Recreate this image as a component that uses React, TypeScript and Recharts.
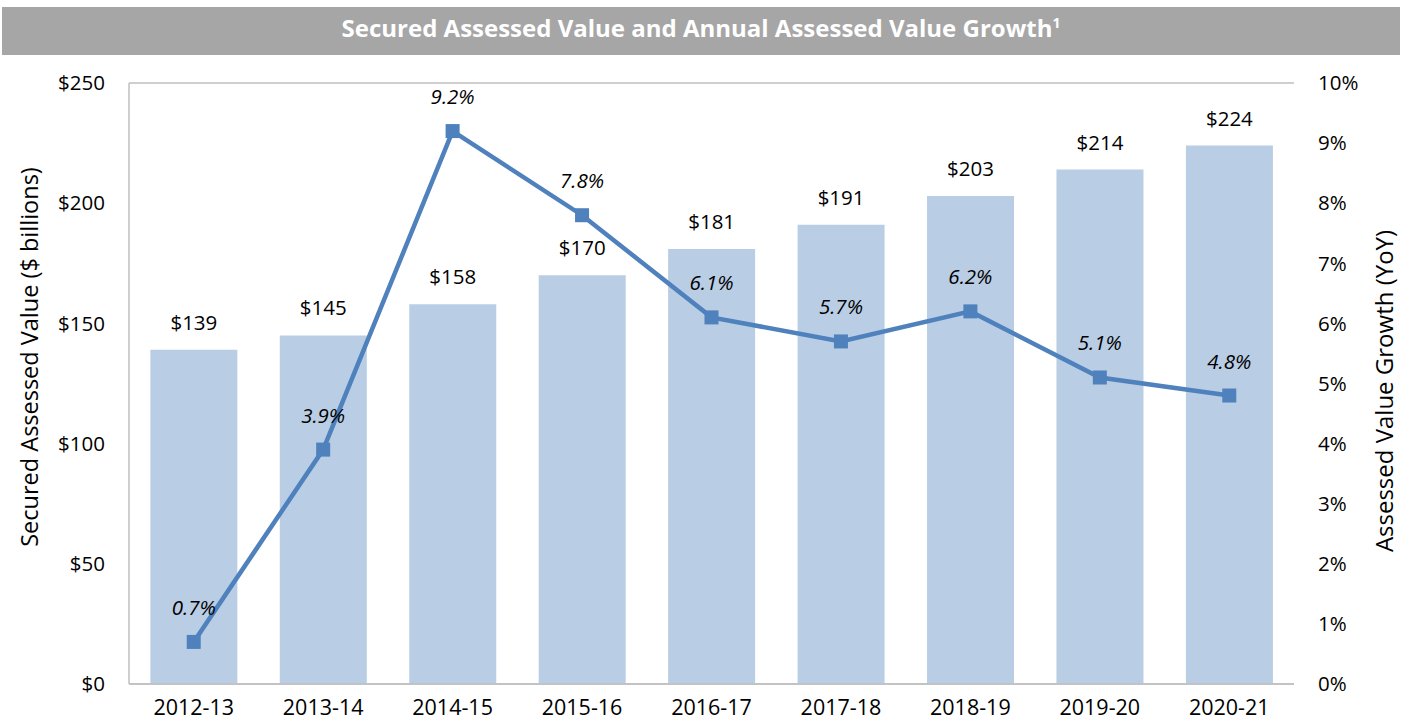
import {
    ComposedChart,
    Bar,
    Line,
    XAxis,
    YAxis,
    CartesianGrid,
    LabelList,
    Label,
} from "recharts";

const years = ["2012-13", "2013-14", "2014-15", "2015-16", "2016-17", "2017-18", "2018-19", "2019-20", "2020-21"];
const assessedValue = [139, 145, 158, 170, 181, 191, 203, 214, 224];
const growthPct = [0.7, 3.9, 9.2, 7.8, 6.1, 5.7, 6.2, 5.1, 4.8];
const valueTicks = [0, 50, 100, 150, 200, 250];
const pctTicks = [0, 1, 2, 3, 4, 5, 6, 7, 8, 9, 10];

const data = years.map((year, i) => ({
    year,
    value: assessedValue[i],
    growth: growthPct[i],
}));

const FONT = "'Open Sans', 'Noto Sans', sans-serif";
const GRID = "#BFBFBF";
const BAR = "#B9CDE5";
const LINE = "#4F81BD";

const SquareDot = (props: any) => {
    const { cx, cy, index } = props;
    if (cx == null || cy == null) return null;
    return <rect key={`dot-${index}`} x={cx - 7} y={cy - 7} width={14} height={14} fill={LINE} />;
};

const LeftTitle = () => (
    <text
        x={29}
        y={357}
        transform="rotate(-90 29 357)"
        textAnchor="middle"
        dominantBaseline="central"
        fontSize={23.5}
        fontFamily={FONT}
        fill="#000"
    >
        Secured Assessed Value ($ billions)
    </text>
);

const RightTitle = () => (
    <text
        x={1383}
        y={391}
        transform="rotate(-90 1383 391)"
        textAnchor="middle"
        dominantBaseline="central"
        fontSize={24}
        fontFamily={FONT}
        fill="#000"
    >
        Assessed Value Growth (YoY)
    </text>
);

export default function App() {
    return (
        <div style={{ position: "absolute", left: 0, top: 0, width: 1402, height: 723, background: "#fff", fontFamily: FONT }}>
            <div
                style={{
                    position: "absolute",
                    left: 2,
                    top: 7,
                    width: 1398,
                    height: 48,
                    background: "#A6A6A6",
                    color: "#fff",
                    fontWeight: 700,
                    fontSize: 24,
                    lineHeight: "42px",
                    textAlign: "center",
                }}
            >
                Secured Assessed Value and Annual Assessed Value Growth
                <sup style={{ fontSize: 14, verticalAlign: "top", lineHeight: "32px" }}>1</sup>
            </div>
            <ComposedChart
                width={1402}
                height={723}
                data={data}
                margin={{ top: 83, right: 0, bottom: 0, left: 0 }}
                barCategoryGap="16.5%"
            >
                <CartesianGrid vertical={false} stroke={GRID} strokeWidth={1.5} />
                <XAxis
                    dataKey="year"
                    height={39}
                    axisLine={{ stroke: GRID, strokeWidth: 1.5 }}
                    tickLine={false}
                    tickSize={0}
                    tickMargin={16}
                    tick={{ fill: "#000", fontSize: 21.5, fontFamily: FONT }}
                    interval={0}
                />
                <YAxis
                    yAxisId="left"
                    width={129}
                    domain={[0, 250]}
                    ticks={valueTicks}
                    tickFormatter={(v: number) => `$${v}`}
                    axisLine={{ stroke: GRID, strokeWidth: 1.5 }}
                    tickLine={false}
                    tickSize={0}
                    tickMargin={24}
                    tick={{ fill: "#000", fontSize: 20.5, fontFamily: FONT }}
                >
                    <Label content={LeftTitle} />
                </YAxis>
                <YAxis
                    yAxisId="right"
                    orientation="right"
                    width={108}
                    domain={[0, 10]}
                    ticks={pctTicks}
                    tickFormatter={(v: number) => `${v}%`}
                    axisLine={false}
                    tickLine={false}
                    tickSize={0}
                    tickMargin={24}
                    tick={{ fill: "#000", fontSize: 20.5, fontFamily: FONT }}
                >
                    <Label content={RightTitle} />
                </YAxis>
                <Bar yAxisId="left" dataKey="value" fill={BAR} isAnimationActive={false}>
                    <LabelList
                        dataKey="value"
                        position="top"
                        offset={20}
                        formatter={(v: any) => `$${v}`}
                        fill="#000"
                        fontSize={20.5}
                        fontFamily={FONT}
                    />
                </Bar>
                <Line
                    yAxisId="right"
                    dataKey="growth"
                    stroke={LINE}
                    strokeWidth={4.5}
                    dot={SquareDot}
                    activeDot={false}
                    isAnimationActive={false}
                >
                    <LabelList
                        dataKey="growth"
                        position="top"
                        offset={27}
                        formatter={(v: any) => `${Number(v).toFixed(1)}%`}
                        fill="#000"
                        fontSize={20.5}
                        fontStyle="italic"
                        fontFamily={FONT}
                    />
                </Line>
            </ComposedChart>
        </div>
    );
}
